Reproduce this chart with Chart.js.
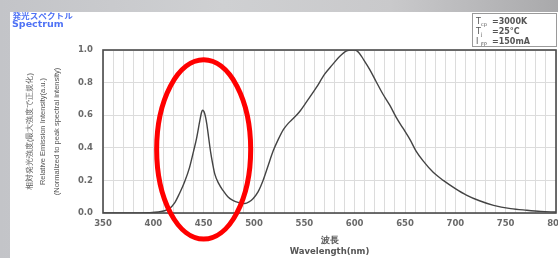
<!DOCTYPE html>
<html>
<head>
<meta charset="utf-8">
<script src="https://cdn.jsdelivr.net/npm/chart.js@4/dist/chart.umd.min.js"></script>
<style>
  html, body { margin: 0; padding: 0; }
  body {
    width: 558px; height: 258px; overflow: hidden; position: relative;
    background: linear-gradient(90deg, #c3c4c8 0%, #cfd0d2 40%, #c9c9cb 70%, #a9a9ab 100%);
  }
  #box { position: absolute; left: 10px; top: 12px; width: 548px; height: 246px; background: #fff; }
</style>
</head>
<body>
<div id="box"><canvas id="myChart"></canvas></div>
<script>
// spectrum
const wavelength = [350, 380, 395, 405, 410, 416, 421, 426, 431, 436, 440, 443, 446, 448, 449, 451, 453, 455, 457, 459, 461, 465, 469, 474, 479, 485, 491, 495, 499, 504, 509, 514, 519, 524, 529, 534, 539, 545, 552, 562, 570, 578, 585, 592, 597, 600, 604, 609, 615, 621, 628, 635, 641, 648, 655, 661, 668, 678, 688, 700, 711, 724, 738, 755, 771, 785, 800];
const intensity = [0, 0, 0.002, 0.006, 0.012, 0.027, 0.06, 0.12, 0.19, 0.28, 0.38, 0.46, 0.56, 0.62, 0.63, 0.61, 0.55, 0.46, 0.37, 0.30, 0.24, 0.18, 0.14, 0.10, 0.078, 0.064, 0.058, 0.068, 0.088, 0.13, 0.2, 0.29, 0.38, 0.45, 0.51, 0.55, 0.58, 0.62, 0.68, 0.77, 0.85, 0.91, 0.96, 0.995, 1.0, 1.0, 0.985, 0.94, 0.88, 0.81, 0.73, 0.66, 0.59, 0.52, 0.45, 0.38, 0.32, 0.25, 0.2, 0.15, 0.11, 0.075, 0.047, 0.027, 0.017, 0.01, 0.006];
const xTickLabels = [350, 400, 450, 500, 550, 600, 650, 700, 750, 800];
const yTickLabels = ["0.0", "0.2", "0.4", "0.6", "0.8", "1.0"];
const titleLines = ["発光スペクトル", "Spectrum"];
const yTitle = ["相対発光強度(最大強度で正規化)", "Relative Emission Intensity(a.u.)", "(Normalized to peak spectral intensity)"];
const xTitle = ["波長", "Wavelength(nm)"];
const conditions = [["T", "cp", "=3000K"], ["T", "j", "=25°C"], ["I", "FP", "=150mA"]];
// red mark round the blue peak (data units)
const highlight = { x: 450, y: 0.39, rx: 46.7, ry: 0.55 };

const points = wavelength.map((w, i) => ({ x: w, y: intensity[i] }));

const extras = {
  id: "extras",
  afterDraw(chart) {
    const c = chart.ctx;
    const a = chart.chartArea;
    const xs = chart.scales.x, ys = chart.scales.y;
    c.save();
    // plot frame
    c.strokeStyle = "#4a4a4a";
    c.lineWidth = 1.6;
    c.strokeRect(a.left, a.top, a.right - a.left, a.bottom - a.top);
    // title
    c.fillStyle = "#4f72f5";
    c.textBaseline = "middle";
    c.save();
    c.translate(2.5, 3.8);
    c.scale(1.15, 1);
    c.font = "bold 7.5px 'Noto Sans CJK JP'";
    c.fillText(titleLines[0], 0, 0);
    c.restore();
    c.font = "bold 9.5px 'DejaVu Sans'";
    c.fillText(titleLines[1], 2, 12.5);
    // conditions box
    c.strokeStyle = "#9a9a9a";
    c.lineWidth = 1;
    c.strokeRect(462.5, 1.5, 84, 33);
    c.fillStyle = "#555";
    conditions.forEach((r, i) => {
      const y = 10 + i * 10;
      c.font = "8px 'DejaVu Sans'";
      c.fillText(r[0], 466, y);
      c.font = "5px 'DejaVu Sans'";
      c.fillText(r[1], 471, y + 2.5);
      c.font = "bold 8px 'DejaVu Sans'";
      c.fillText(r[2], 482, y);
    });
    // highlight ellipse
    const cx = xs.getPixelForValue(highlight.x);
    const cy = ys.getPixelForValue(highlight.y);
    const rx = xs.getPixelForValue(highlight.x + highlight.rx) - cx;
    const ry = ys.getPixelForValue(0) - ys.getPixelForValue(highlight.ry);
    c.strokeStyle = "#ff0000";
    c.lineWidth = 5;
    c.beginPath();
    c.ellipse(cx, cy, rx, ry, 0, 0, Math.PI * 2);
    c.stroke();
    c.restore();
  }
};

const tickFont = { family: "'DejaVu Sans'", size: 8.5, weight: "bold" };

const ctx = document.getElementById("myChart");
const myChart = new Chart(ctx, {
  type: "line",
  data: {
    datasets: [
      {
        data: points,
        borderColor: "#444",
        borderWidth: 1.4,
        pointRadius: 0,
        cubicInterpolationMode: "monotone",
        fill: false,
      },
    ],
  },
  options: {
    responsive: true,
    maintainAspectRatio: false,
    animation: false,
    layout: { padding: { top: 38, right: 2, left: 0, bottom: 0 } },
    plugins: { legend: { display: false }, tooltip: { enabled: false } },
    scales: {
      x: {
        type: "linear",
        min: 350,
        max: 800,
        grid: { color: "#dcdcdc", drawTicks: false },
        border: { display: false },
        ticks: {
          stepSize: 10,
          autoSkip: false,
          maxRotation: 0,
          padding: 6,
          color: "#6a6a6a",
          font: tickFont,
          callback: (v) => (xTickLabels.includes(v) ? String(v) : ""),
        },
        title: {
          display: true,
          text: xTitle,
          color: "#555",
          font: { family: "'DejaVu Sans'", size: 8.5, weight: "bold", lineHeight: 1.25 },
          padding: { top: 0, bottom: 1 },
        },
        afterFit: (s) => {
          s.height = 45;
          s.paddingLeft = 0;
          s.paddingRight = 0;
        },
      },
      y: {
        min: 0,
        max: 1,
        grid: { color: "#dcdcdc", drawTicks: false },
        border: { display: false },
        ticks: {
          stepSize: 0.2,
          padding: 10,
          color: "#6a6a6a",
          font: tickFont,
          callback: (v) => yTickLabels[Math.round(v / 0.2)],
        },
        title: {
          display: true,
          text: yTitle,
          color: "#555",
          font: { family: "'Liberation Sans'", size: 7.5, lineHeight: 1.8 },
          padding: { top: 13, bottom: 0 },
        },
        afterFit: (s) => {
          s.width = 93;
        },
      },
    },
  },
  plugins: [extras],
});
</script>
</body>
</html>
